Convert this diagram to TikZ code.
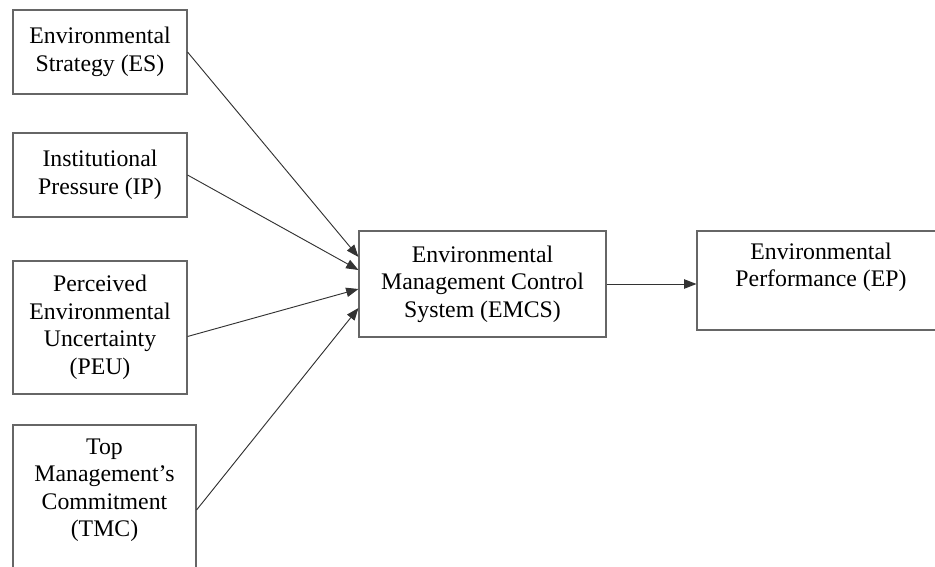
\documentclass[tikz,border=0pt]{standalone}
\usepackage{fontspec}
\setmainfont{Liberation Serif}
\usetikzlibrary{arrows.meta,calc}

\begin{document}
\begin{tikzpicture}[x=0.03cm, y=-0.03cm,
  box/.style={draw=black!60, line width=0.9pt, inner sep=0pt},
  lbl/.style={align=center, font=\fontsize{20.3}{23.5}\selectfont},
  conn/.style={every edge/.style={draw=black!80, line width=0.8pt, -{Triangle[length=10.5pt,width=8pt]}}}]
  \useasboundingbox (0,0) rectangle (935,567);
  \clip (0,0) rectangle (935,567);

  % antecedents
  \node[box, lbl, minimum width=5.22cm, minimum height=2.52cm] (es) at (100,52) {Environmental\\Strategy (ES)};
  \node[box, lbl, minimum width=5.22cm, minimum height=2.52cm] (ip) at (100,175) {Institutional\\Pressure (IP)};
  \node[box, lbl, minimum width=5.22cm, minimum height=3.99cm] (peu) at (100,327.5) {Perceived\\Environmental\\Uncertainty\\(PEU)};
  \node[box, minimum width=5.49cm, minimum height=5.1cm] (tmc) at (104.5,510) {};
  \node[lbl, anchor=north] (tmc-txt) at ($(tmc.north)+(0,10)$) {Top\\Management’s\\Commitment\\(TMC)};

  % mediator and outcome
  \node[box, lbl, minimum width=7.41cm, minimum height=3.18cm] (emcs) at (482.5,284) {Environmental\\Management Control\\System (EMCS)};
  \node[box, minimum width=7.44cm, minimum height=2.97cm] (ep) at (821,280.5) {};
  \node[lbl, anchor=north] (ep-txt) at ($(ep.north)+(0,8)$) {Environmental\\Performance (EP)};

  \path[conn]
  (es.east) edge ($(emcs.west)+(0,-27)$)
  (ip.east) edge ($(emcs.west)+(0,-14)$)
  ($(peu.east)+(0,9)$) edge ($(emcs.west)+(0,5)$)
  (tmc.east) edge ($(emcs.west)+(0,24)$)
  (emcs.east) edge (emcs.east -| ep.west)
  ;
\end{tikzpicture}
\end{document}
